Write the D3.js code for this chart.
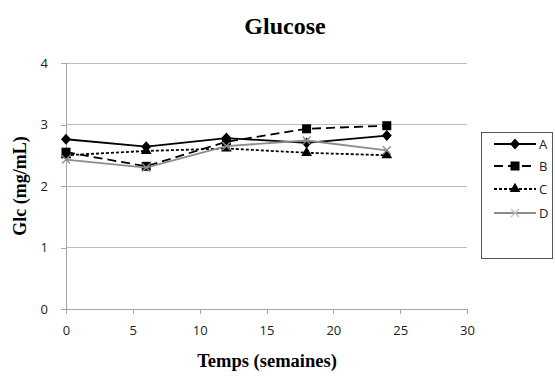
<!DOCTYPE html>
<html><head><meta charset="utf-8">
<script src="https://cdn.jsdelivr.net/npm/d3@7"></script>
<style>body{margin:0;background:#fff}svg{display:block}</style>
</head><body>
<svg id="c" width="555" height="376"></svg>
<script>
const weeks = [0, 6, 12, 18, 24];
const seriesA = [2.76, 2.64, 2.78, 2.70, 2.82];
const seriesB = [2.55, 2.32, 2.72, 2.93, 2.98];
const seriesC = [2.50, 2.57, 2.61, 2.54, 2.50];
const seriesD = [2.43, 2.30, 2.65, 2.74, 2.58];
const seriesNames = ["A", "B", "C", "D"];
const xTicks = [0, 5, 10, 15, 20, 25, 30];
const yTicks = [0, 1, 2, 3, 4];

const styles = {
  A: {color: "#000", dash: null, marker: "diamond"},
  B: {color: "#000", dash: "9,5", marker: "square"},
  C: {color: "#000", dash: "3,2", marker: "triangle"},
  D: {color: "#8c8c8c", dash: null, marker: "x"}
};
const data = [seriesA, seriesB, seriesC, seriesD];

const svg = d3.select("#c");
const x = d3.scaleLinear().domain([0, 30]).range([66, 467]);
const y = d3.scaleLinear().domain([0, 4]).range([309, 63]);
const lab = "'Open Sans', 'Liberation Sans', sans-serif";

// grid
svg.append("g").selectAll("line").data(yTicks.filter(d => d > 0)).join("line")
  .attr("x1", x(0)).attr("x2", x(30)).attr("y1", d => y(d)).attr("y2", d => y(d))
  .attr("stroke", "#bdbdbd").attr("stroke-width", 1).attr("shape-rendering", "crispEdges");

// axes
const xa = svg.append("g").attr("transform", `translate(0,${y(0)})`)
  .call(d3.axisBottom(x).tickValues(xTicks).tickFormat(d3.format("d")).tickSize(5).tickPadding(12));
const ya = svg.append("g").attr("transform", `translate(${x(0)},0)`)
  .call(d3.axisLeft(y).tickValues(yTicks).tickFormat(d3.format("d")).tickSize(5).tickPadding(13));
[xa, ya].forEach(a => {
  a.selectAll("path,line").attr("stroke", "#a6a6a6").attr("shape-rendering", "crispEdges");
  a.selectAll("text").attr("font-family", lab).attr("font-size", 13).attr("fill", "#222");
});
xa.select(".domain").attr("d", `M${x(0)},0H${x(30)}`);
ya.select(".domain").attr("d", `M0,${y(0)}V${y(4)}`);

function marker(g, type, color) {
  if (type === "diamond") {
    g.append("path").attr("d", "M0,-5.5L5,0L0,5.5L-5,0Z").attr("fill", color);
  } else if (type === "square") {
    g.append("rect").attr("x", -4.5).attr("y", -4.5).attr("width", 9).attr("height", 9).attr("fill", color);
  } else if (type === "triangle") {
    g.append("path").attr("d", d3.symbol(d3.symbolTriangle, 50)()).attr("fill", color);
  } else {
    g.append("path").attr("d", "M-4,-4L4,4M-4,4L4,-4").attr("stroke", color).attr("stroke-width", 1.3).attr("fill", "none");
  }
}

const line = d3.line().x((d, i) => x(weeks[i])).y(d => y(d));
data.forEach((vals, si) => {
  const st = styles[seriesNames[si]];
  svg.append("path").datum(vals).attr("d", line).attr("fill", "none")
    .attr("stroke", st.color).attr("stroke-width", 1.8)
    .attr("stroke-dasharray", st.dash);
  vals.forEach((v, i) => {
    const g = svg.append("g").attr("transform", `translate(${x(weeks[i])},${y(v)})`);
    marker(g, st.marker, st.color);
  });
});

// title
svg.append("text").attr("x", 285).attr("y", 34).attr("text-anchor", "middle")
  .attr("font-family", "'Liberation Serif', serif").attr("font-weight", "bold")
  .attr("font-size", 24).text("Glucose");
svg.append("text").attr("x", 267).attr("y", 367).attr("text-anchor", "middle")
  .attr("font-family", "'Liberation Serif', serif").attr("font-weight", "bold")
  .attr("font-size", 18.5).text("Temps (semaines)");
svg.append("text").attr("transform", `translate(26,${y(2)}) rotate(-90)`).attr("text-anchor", "middle")
  .attr("font-family", "'Liberation Serif', serif").attr("font-weight", "bold")
  .attr("font-size", 18).text("Glc (mg/mL)");

// legend
const lg = svg.append("g");
lg.append("rect").attr("x", 481.5).attr("y", 132.5).attr("width", 71).attr("height", 126)
  .attr("fill", "#fff").attr("stroke", "#555");
const ly = [144, 166, 189, 213];
seriesNames.forEach((n, i) => {
  const st = styles[n];
  lg.append("line").attr("x1", 494).attr("x2", 536).attr("y1", ly[i]).attr("y2", ly[i])
    .attr("stroke", st.color).attr("stroke-width", 1.8).attr("stroke-dasharray", st.dash);
  const g = lg.append("g").attr("transform", `translate(515,${ly[i]})`);
  marker(g, st.marker, n === "D" ? "#c0c0c0" : st.color);
  lg.append("text").attr("x", 539).attr("y", ly[i] + 5).attr("font-family", lab)
    .attr("font-size", 13).attr("fill", "#222").text(n);
});
</script>
</body></html>
